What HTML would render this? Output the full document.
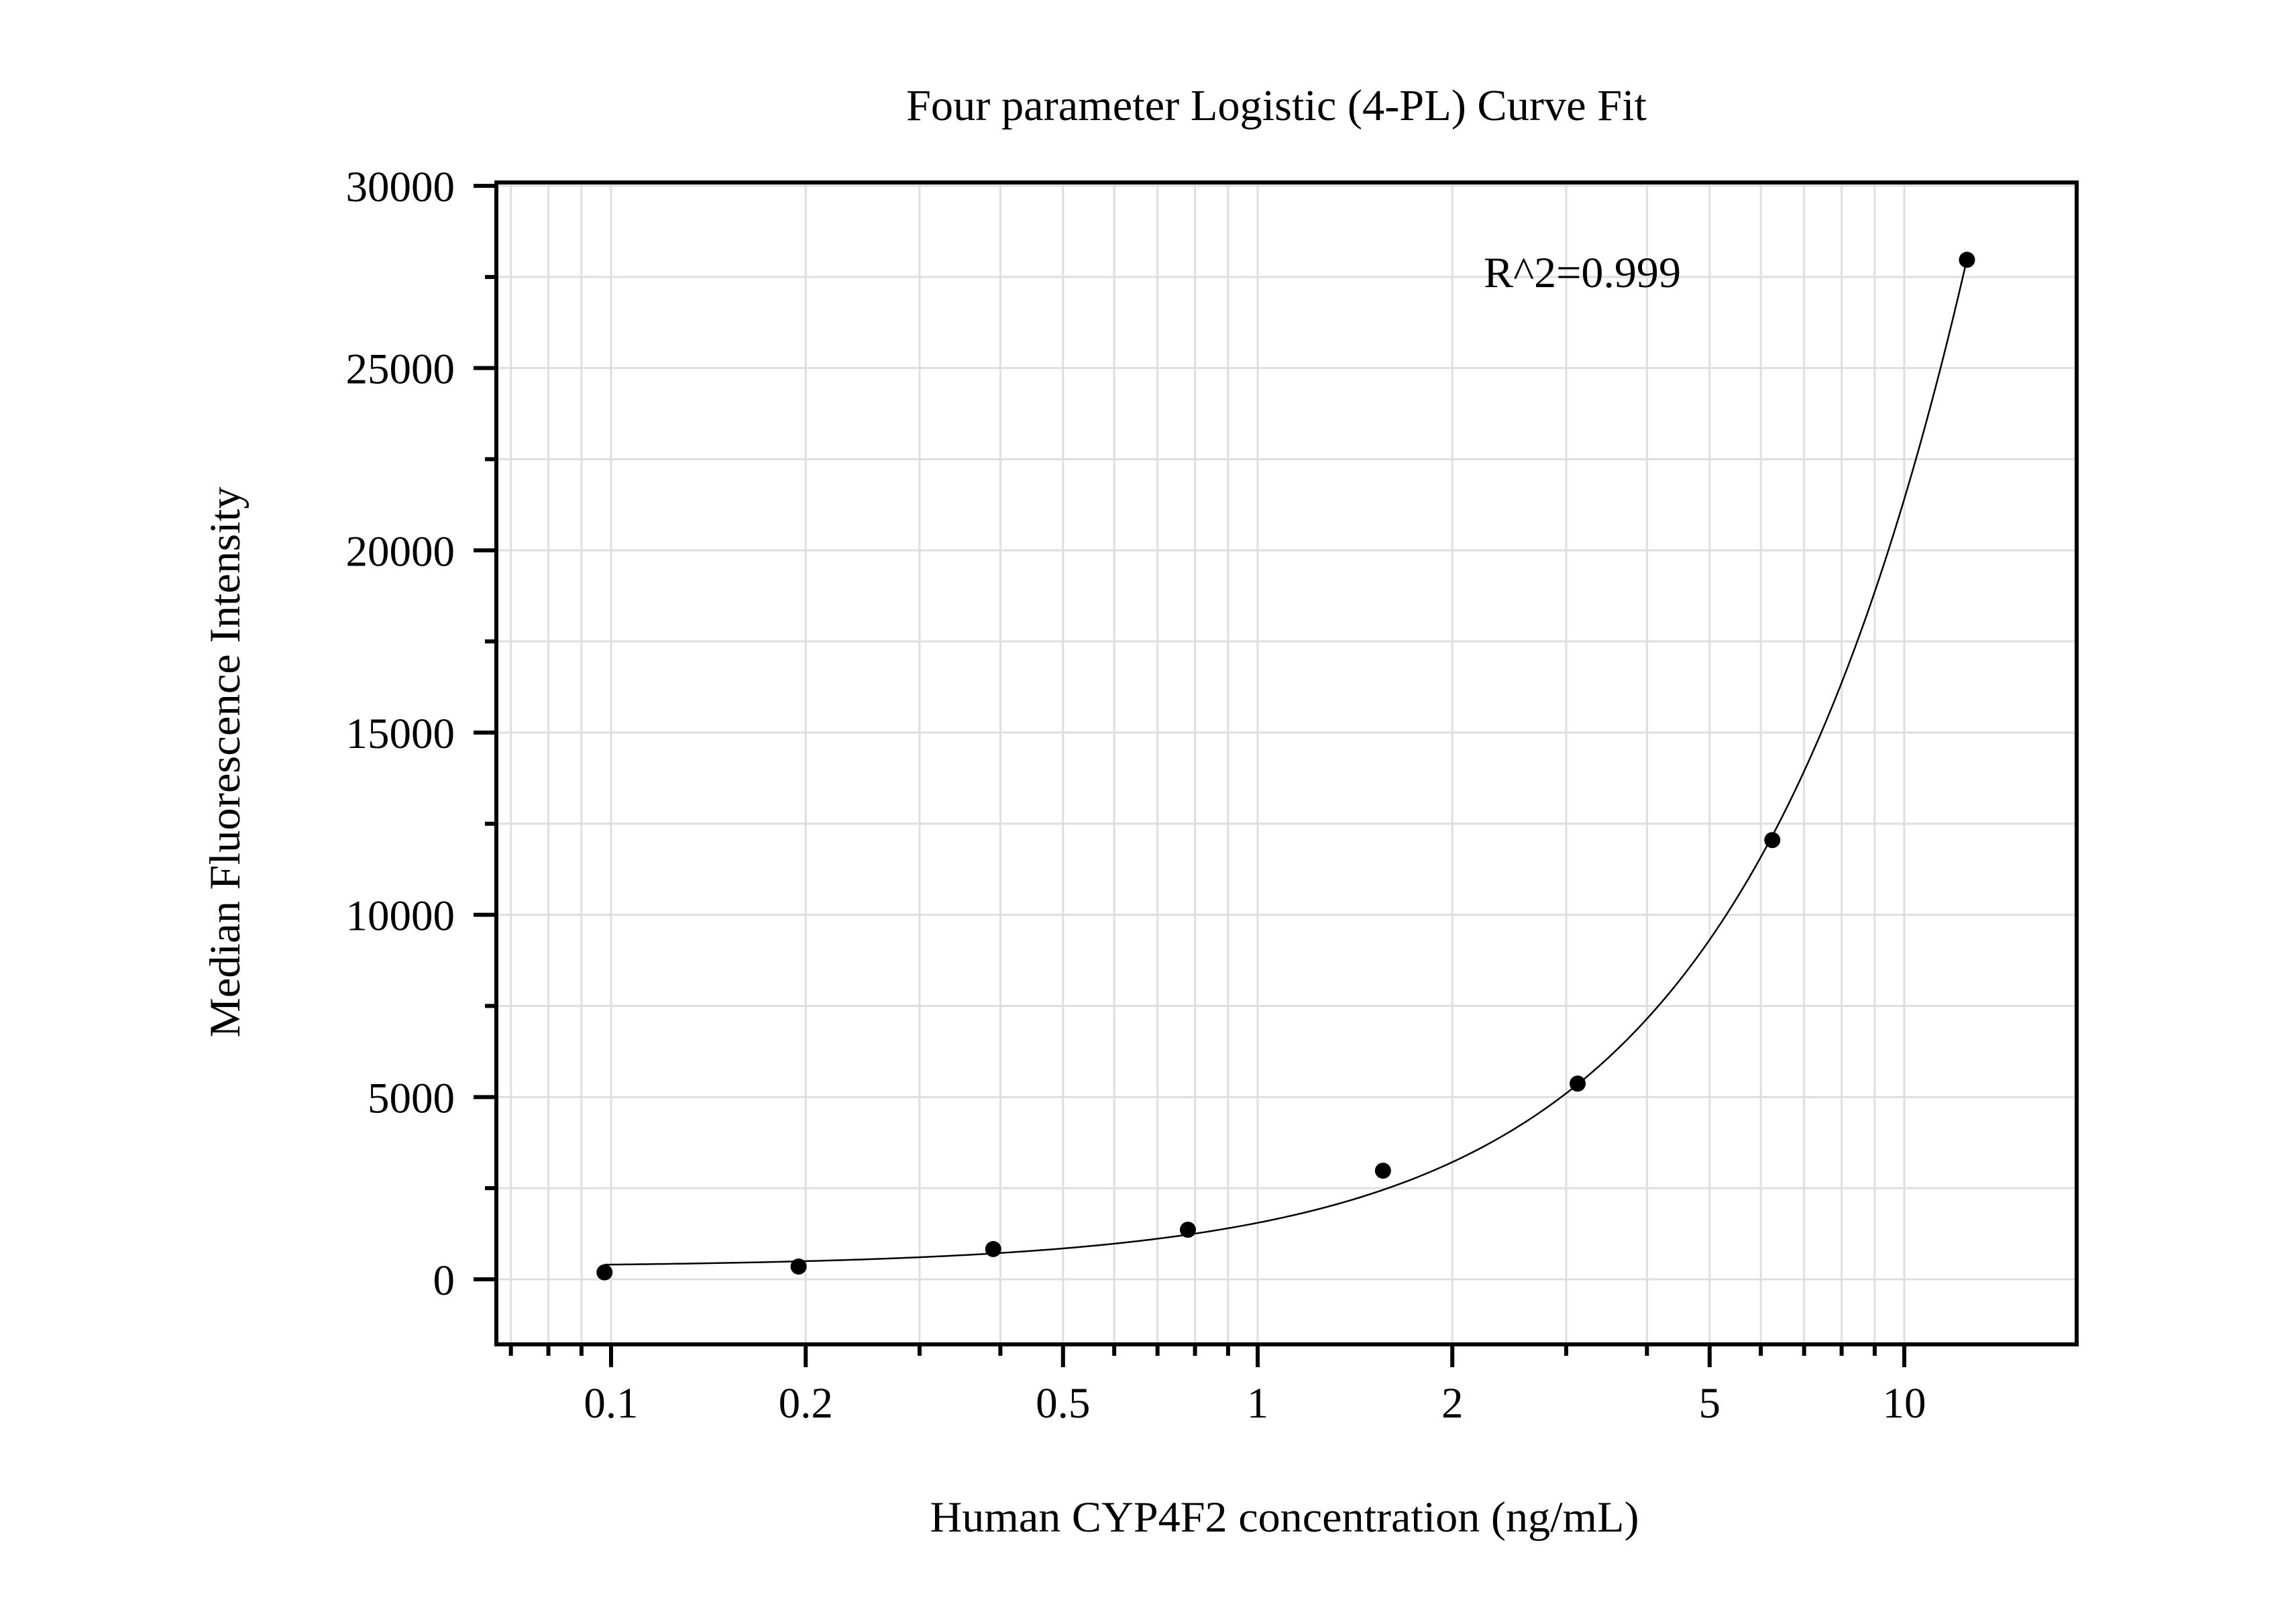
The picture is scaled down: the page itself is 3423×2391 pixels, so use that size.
<!DOCTYPE html>
<html><head><meta charset="utf-8"><style>
html,body{margin:0;padding:0;background:#fff;}
svg{display:block;font-family:"Liberation Serif",serif;}
</style></head><body>
<svg id="chart" width="3423" height="2391" viewBox="0 0 3423 2391" xmlns="http://www.w3.org/2000/svg">
<rect x="0" y="0" width="3423" height="2391" fill="#fff"/>
<g id="grid"></g>
<g id="curve"></g>
<g id="points"></g>
<rect x="740" y="272" width="2356" height="1732" fill="none" stroke="#000" stroke-width="6"/>
<g id="ticks"></g>
<text x="1903" y="179" font-size="66" text-anchor="middle" textLength="1104" lengthAdjust="spacingAndGlyphs">Four parameter Logistic (4-PL) Curve Fit</text>
<text x="2212" y="428" font-size="65" textLength="294" lengthAdjust="spacingAndGlyphs">R^2=0.999</text>
<text x="1915" y="2283" font-size="65" text-anchor="middle" textLength="1057" lengthAdjust="spacingAndGlyphs">Human CYP4F2 concentration (ng/mL)</text>
<text transform="translate(357,1136) rotate(-90)" x="0" y="0" font-size="65" text-anchor="middle" textLength="821" lengthAdjust="spacingAndGlyphs">Median Fluorescence Intensity</text>
</svg>
<script>
const concentrations = [0.0977, 0.195, 0.39, 0.78, 1.5625, 3.125, 6.25, 12.5];
const mfiValues = [190, 350, 830, 1360, 2980, 5370, 12050, 27970];
const fitParams = [335, 1.248, 216.6, 1000000]; // A, B, C, D
const yTickValues = [0, 5000, 10000, 15000, 20000, 25000, 30000];
const yTickLabels = ["0", "5000", "10000", "15000", "20000", "25000", "30000"];
const xTickValues = [0.1, 0.2, 0.5, 1, 2, 5, 10];
const xTickLabels = ["0.1", "0.2", "0.5", "1", "2", "5", "10"];
const xMinorValues = [0.07,0.08,0.09,0.3,0.4,0.6,0.7,0.8,0.9,3,4,6,7,8,9];
const yMinorValues = [2500,7500,12500,17500,22500,27500];

const NS = "http://www.w3.org/2000/svg";
function xScale(v){ return 911 + 964 * Math.log10(v / 0.1); }
function yScale(v){ return 1907 - v * (1630 / 30000); }
function mk(tag, attrs, parent){
  const e = document.createElementNS(NS, tag);
  for (const k in attrs) e.setAttribute(k, attrs[k]);
  parent.appendChild(e);
  return e;
}
const grid = document.getElementById('grid');
const ticks = document.getElementById('ticks');
const gridX = xTickValues.concat(xMinorValues);
gridX.forEach(v => {
  const x = xScale(v);
  const l = mk('line', {x1:x, x2:x, y1:275, y2:2001, stroke:'#dedede', 'stroke-width':3}, grid);
  
  
});
yTickValues.concat(yMinorValues).forEach(v => {
  const y = yScale(v);
  const l = mk('line', {x1:743, x2:3093, y1:y, y2:y, stroke:'#dedede', 'stroke-width':3}, grid);
  
  
});
yTickValues.forEach((v, i) => {
  const y = yScale(v);
  const t = mk('line', {x1:706, x2:740, y1:y, y2:y, stroke:'#000', 'stroke-width':6}, ticks);
  
  
  const lab = mk('text', {x:678, y:y + 23, 'font-size':65, 'text-anchor':'end'}, ticks);
  lab.textContent = yTickLabels[i];
  
  
});
yMinorValues.forEach(v => {
  const y = yScale(v);
  const t = mk('line', {x1:723, x2:740, y1:y, y2:y, stroke:'#000', 'stroke-width':6}, ticks);
  
  
});
xTickValues.forEach((v, i) => {
  const x = xScale(v);
  const t = mk('line', {x1:x, x2:x, y1:2004, y2:2038, stroke:'#000', 'stroke-width':6}, ticks);
  
  
  const lab = mk('text', {x:x, y:2113, 'font-size':65, 'text-anchor':'middle'}, ticks);
  lab.textContent = xTickLabels[i];
  
  
});
xMinorValues.forEach(v => {
  const x = xScale(v);
  const t = mk('line', {x1:x, x2:x, y1:2004, y2:2021, stroke:'#000', 'stroke-width':6}, ticks);
  
  
});
function fourPL(x){
  const A = fitParams[0], B = fitParams[1], C = fitParams[2], D = fitParams[3];
  return D + (A - D) / (1 + Math.pow(x / C, B));
}
const curveG = document.getElementById('curve');
const x0 = Math.log10(concentrations[0]), x1 = Math.log10(concentrations[concentrations.length - 1]);
let d = '';
for (let i = 0; i <= 300; i++){
  const xv = Math.pow(10, x0 + (x1 - x0) * i / 300);
  d += (i ? 'L' : 'M') + xScale(xv).toFixed(2) + ',' + yScale(fourPL(xv)).toFixed(2);
}
const path = mk('path', {d:d, fill:'none', stroke:'#000', 'stroke-width':2.5}, curveG);


const pts = document.getElementById('points');
concentrations.forEach((c, i) => {
  const p = mk('circle', {cx:xScale(c), cy:yScale(mfiValues[i]), r:12, fill:'#000'}, pts);
  
  
});
</script>
</body></html>
